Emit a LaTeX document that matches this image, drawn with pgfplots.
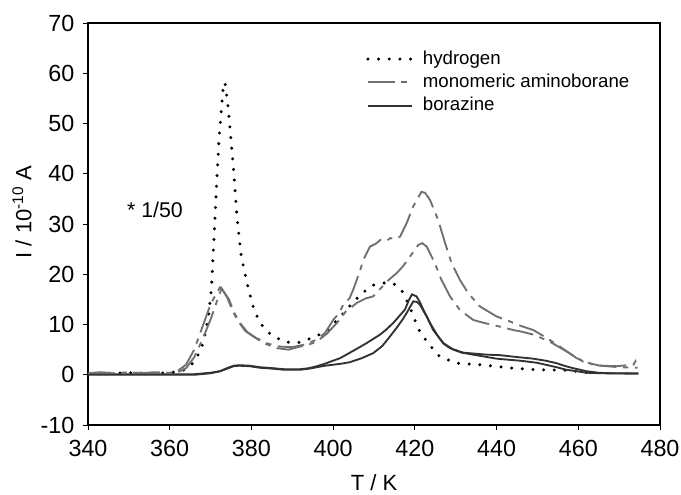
\documentclass[border=0pt]{standalone}
\usepackage{fontspec}
\setmainfont{Liberation Sans}
\usepackage{pgfplots}
\pgfplotsset{compat=1.18}
\usepackage{pgfplotstable}

\definecolor{dashgray}{RGB}{112,112,112}
\definecolor{solidgray}{RGB}{50,50,50}

\pgfplotstableread{
T I
340 0.3
345 0.3
350 0.4
355 0.3
360 0.4
363 0.8
364 1.1
365.5 2.2
366.6 3.3
367.5 5.0
368.2 6.3
369.5 11.6
370.2 17.0
370.7 25.0
371.1 31.5
371.6 40.0
372.1 47.4
372.7 53.3
373.1 57.3
373.5 58.2
374.2 54.0
374.8 48.7
375.7 40.1
376.4 32.1
377.4 24.2
378.8 18.6
380.5 13.3
382.1 10.3
384.7 8.0
388.2 6.5
391.5 6.4
395.1 7.4
398.2 8.6
401.3 11.1
404.1 13.7
407.0 16.2
410.0 17.9
413.5 18.4
415.0 18.0
416.7 16.9
418.5 14.0
419.8 11.3
421.2 8.6
423.5 6.0
426.1 3.6
430.2 2.3
435.9 2.0
444.1 1.3
449.8 1.0
457.2 0.9
461.2 0.5
463.5 0.3
}\hydrogen

\pgfplotstableread{
T I
340 0.3
343 0.5
346 0.3
350 0.5
353 0.3
356 0.5
360 0.4
362 0.8
364 2.0
366 5.0
368 9.5
370 14.0
371.5 16.3
372.3 17.4
373.0 16.8
374.5 15.0
376 12.0
377.5 10.0
379 8.5
381 7.4
384 6.2
387 5.6
390 5.5
393 6.0
396 7.0
398 8.3
400 10.9
401.5 12.3
402.5 14.0
404.0 15.2
404.9 16.9
406.5 20.5
407.4 22.9
409 25.5
410.5 26.1
411.5 26.8
413 26.6
414 27.2
415.2 27.0
416.4 27.5
418 30.2
419.6 33.5
421.6 36.4
422.5 36.2
423.7 34.8
425.7 30.8
427.4 26.2
429 22.2
431 18.9
433.1 16.2
435.9 13.6
440 11.6
443.3 10.6
446 9.7
449 8.9
452.3 7.3
455.5 5.6
459.6 3.3
463.7 2.0
466 1.8
469.4 1.7
472 1.9
473.5 2.0
474 2.7
474.6 1.4
}\amboA

\pgfplotstableread{
T I
340 0.2
344 0.4
348 0.2
352 0.4
356 0.2
360 0.3
362 0.5
364 1.3
366 3.5
368 7.0
370 11.0
371.5 14.5
372.7 17.2
374 15.5
375.5 12.5
376.8 10.6
378.5 8.7
380.5 7.6
383 6.3
386.2 5.3
389 5.0
391.9 5.6
394 6.0
396 6.6
398.5 8.2
400.9 10.3
403 12.5
405.8 14.3
408 15.2
409.8 15.6
412 17.5
413.5 18.8
415.5 20.2
417 21.5
418.8 23.5
420.8 25.8
421.8 26.2
422.9 25.5
424.9 22.2
426.5 18.9
428.6 15.6
431 12.9
434.3 10.9
437 10.3
439.2 9.9
444.1 8.9
446 8.6
449 8.0
453 6.6
457.2 4.6
461.2 2.6
465.3 1.8
470.2 1.5
474.5 1.4
}\amboB

\pgfplotstableread{
T I
340 0.1
350 0.1
360 0.1
366 0.1
370 0.4
372.3 0.7
374 1.3
375.6 1.8
377 1.9
379.6 1.8
382 1.5
385.4 1.3
388 1.1
391.9 1.1
394 1.3
396 1.7
398 2.2
400 2.8
401.7 3.3
405 4.8
408.2 6.3
411.5 8.0
413 9.0
414.7 10.3
416 11.5
417.6 13.0
418.5 14.8
419.3 16.0
420.4 15.6
421.2 14.5
422.1 12.9
423.7 10.3
425.7 7.6
427 6.2
428.6 5.3
431.8 4.4
437.6 4.0
440.8 3.9
444.1 3.6
449 3.2
452 2.8
454.7 2.3
456.5 1.8
458.8 1.3
462 0.7
465 0.4
467.8 0.3
474.7 0.3
}\borA

\pgfplotstableread{
T I
340 0.0
350 0.0
360 0.0
366 0.0
370 0.3
372.3 0.7
374 1.2
375.6 1.7
377 1.8
379.6 1.7
382 1.4
385.4 1.2
388 1.0
391.9 1.0
394 1.2
396 1.5
398 1.8
400 2.0
402 2.2
404.1 2.5
407 3.3
409.8 4.3
412 5.7
413.5 7.2
415.5 9.3
417 11.0
418 12.3
419.6 14.6
420.5 14.5
421.2 14.0
422.9 11.6
424.5 8.9
427 6.3
429.4 5.0
431.5 4.4
434.3 4.0
440 3.2
445.7 2.8
449.8 2.4
452 2.0
454.7 1.5
457 1.0
459.6 0.7
462 0.4
465.5 0.3
474.7 0.2
}\borB

\begin{document}
\begin{tikzpicture}
\useasboundingbox (-66pt,-51.75pt) rectangle (444.75pt,318.75pt);
\begin{axis}[
  at={(0,0)}, anchor=south west,
  scale only axis, width=429pt, height=301.5pt,
  xmin=340, xmax=480, ymin=-10, ymax=70,
  xtick={340,360,...,480}, ytick={-10,0,...,70},
  tick align=outside, xtick pos=bottom, ytick pos=left,
  major tick length=3.75pt,
  axis line style={line width=0.9pt},
  tick style={line width=0.6pt, black},
  /pgf/number format/assume math mode=true,
  ticklabel style={font=\fontsize{17.5}{19}\selectfont},
  xticklabel style={yshift=-4pt},
  yticklabel style={xshift=-3pt},
  xlabel={T / K},
  ylabel={I / 10\textsuperscript{-10} A},
  xlabel style={at={(axis description cs:0.5,-0.1443)}, anchor=center, font=\fontsize{16.5}{18}\selectfont},
  ylabel style={at={(axis description cs:-0.1154,0.53)}, anchor=center, font=\fontsize{16.5}{18}\selectfont},
  legend cell align=left,
  legend style={at={(0.486,0.94)}, anchor=north west, draw=none, fill=none, inner sep=0pt,
    font=\fontsize{14}{16}\selectfont,
    nodes={text height=10.5pt, text depth=3pt, inner sep=2pt},
    /tikz/every odd column/.append style={column sep=5pt}},
  legend image code/.code={\draw[#1] (0pt,0pt) -- (33pt,0pt);},
]
\addplot[black, line width=2.5pt, line cap=round, dash pattern=on 0pt off 8pt] table[x=T,y=I] {\hydrogen};
\addlegendentry{hydrogen}
\addplot[dashgray, line width=1.4pt, dash pattern=on 20pt off 5pt on 4pt off 5pt] table[x=T,y=I] {\amboA};
\addlegendentry{monomeric aminoborane}
\addplot[solidgray, line width=1.4pt] table[x=T,y=I] {\borA};
\addlegendentry{borazine}
\addplot[dashgray, line width=1.4pt, dash pattern=on 20pt off 5pt on 4pt off 5pt, forget plot] table[x=T,y=I] {\amboB};
\addplot[solidgray, line width=1.4pt, forget plot] table[x=T,y=I] {\borB};
\node[anchor=west, inner sep=0pt, font=\fontsize{16}{18}\selectfont] at (axis cs:349.5,32.8) {* 1/50};
\end{axis}
\end{tikzpicture}
\end{document}
